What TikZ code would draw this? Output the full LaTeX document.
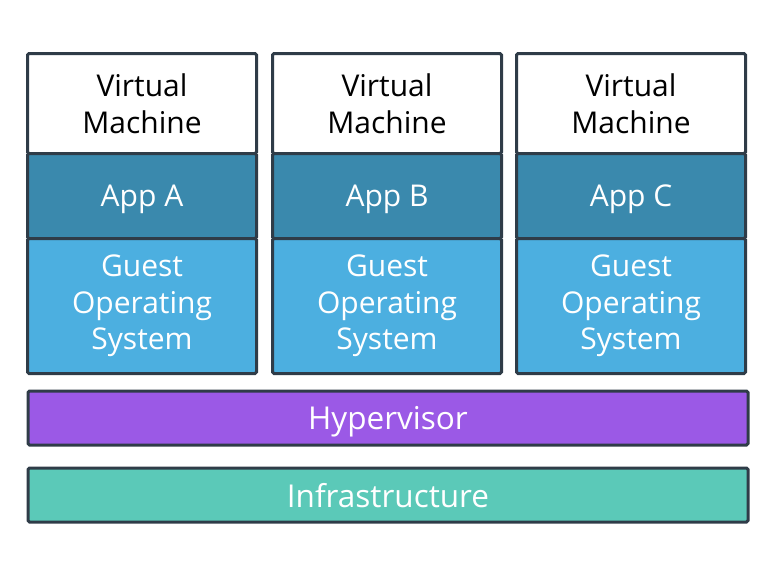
\documentclass[tikz,border=0pt]{standalone}
\usepackage{fontspec}
\setmainfont{Open Sans}
\usetikzlibrary{positioning}
\definecolor{edgeslate}{RGB}{47, 60, 72}
\definecolor{appteal}{RGB}{58, 137, 173}
\definecolor{guestblue}{RGB}{76, 175, 224}
\definecolor{hyperviolet}{RGB}{155, 89, 230}
\definecolor{infragreen}{RGB}{91, 201, 184}

\begin{document}
\begin{tikzpicture}[x=1pt, y=-1pt,
  layer/.style={draw=edgeslate, line width=3pt, rounded corners=1.5pt, outer sep=0pt, inner sep=0pt,
    minimum width=229pt, align=center, text=white, font=\fontsize{30}{36.5}\selectfont},
  oneline/.style={text depth=0pt},
  node distance=0pt]
  \useasboundingbox (0,0) rectangle (776,560);

  % Virtual machines
  \foreach \c/\x in {A/142, B/387, C/631} {
    \node[layer, fill=white, text=black, minimum height=100pt] (vm\c) at (\x,103.5) {Virtual\\Machine};
    \node[layer, oneline, fill=appteal, minimum height=85pt, below=of vm\c] (app\c) {App \c};
    \node[layer, fill=guestblue, minimum height=135pt, below=of app\c] (os\c) {Guest\\Operating\\System};
  }

  % Hypervisor
  \node[layer, oneline, fill=hyperviolet, minimum width=720pt, minimum height=54pt,
    font=\fontsize{31.5}{36.5}\selectfont] (hyper) at (388,418) {Hypervisor};

  % Infrastructure
  \node[layer, oneline, fill=infragreen, minimum width=720pt, minimum height=54pt,
    font=\fontsize{31.5}{36.5}\selectfont] (infra) at (388,495) {Infrastructure};
\end{tikzpicture}
\end{document}
